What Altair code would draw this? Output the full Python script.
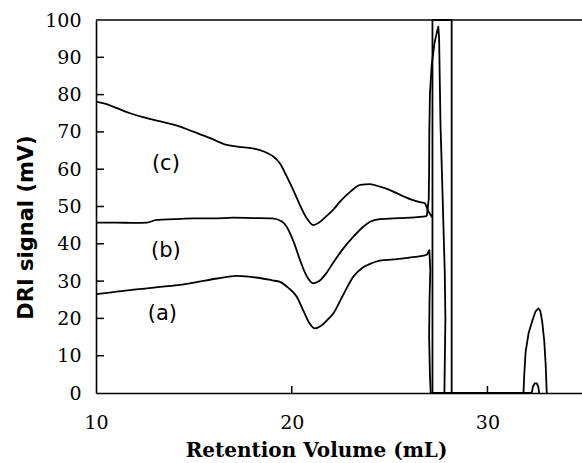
import altair as alt
import pandas as pd

# ---- data ----
c_x = [10.0, 10.5, 11.0, 11.74, 12.5, 13.3, 14.29, 15.0, 15.8, 16.68, 17.3, 18.0, 18.38, 18.8, 19.06,
       19.4, 19.75, 20.08, 20.4, 20.75, 21.1, 21.4, 21.75, 22.1, 22.5, 23.0, 23.5, 24.0, 24.5, 25.02,
       25.6, 26.2, 26.81, 27.0, 27.19, 27.19, 27.19, 28.17, 28.17]
c_y = [78.1, 77.5, 76.5, 75.0, 73.8, 72.8, 71.4, 70.0, 68.4, 66.5, 66.0, 65.6, 65.1, 64.2, 63.4,
       61.5, 58.0, 54.4, 50.6, 47.0, 45.0, 45.7, 47.3, 49.0, 51.5, 54.0, 55.8, 56.0, 55.3, 54.4,
       53.0, 51.7, 50.9, 48.5, 47.0, 0.0, 100.0, 100.0, 0.0]

b_x = [10.0, 11.0, 12.0, 12.6, 13.1, 14.0, 15.0, 16.0, 17.0, 18.0, 19.0, 19.5, 19.74, 20.1, 20.42,
       20.75, 21.1, 21.4, 21.75, 22.1, 22.6, 23.15, 23.6, 24.0, 24.5, 25.5, 26.3, 26.9, 27.0, 27.02,
       27.03, 27.06, 27.15, 27.3, 27.45, 27.49, 27.53, 27.56, 27.6, 27.68, 27.75, 27.82, 27.85, 27.82,
       27.8, 31.84, 31.88, 31.95, 32.1, 32.3, 32.45, 32.6, 32.7, 32.8, 32.9, 32.97, 33.03]
b_y = [45.7, 45.7, 45.6, 45.7, 46.4, 46.6, 46.8, 46.8, 47.0, 46.9, 46.8, 46.0, 44.6, 40.5, 35.7,
       31.5, 29.4, 30.0, 32.0, 34.8, 38.5, 41.9, 44.3, 45.9, 46.6, 46.9, 47.1, 47.4, 52.0, 60.0,
       70.0, 80.0, 88.0, 94.0, 97.5, 98.2, 95.0, 85.0, 72.0, 58.0, 45.0, 32.0, 20.0, 8.0,
       0.0, 0.0, 5.0, 11.0, 16.0, 19.5, 21.8, 22.7, 22.0, 19.0, 14.0, 8.0, 0.0]

a_x = [10.0, 10.8, 11.74, 12.5, 13.4, 14.29, 15.2, 16.2, 17.19, 17.8, 18.5, 19.0, 19.4, 19.8, 20.26,
       20.6, 20.9, 21.19, 21.5, 21.8, 22.13, 22.6, 23.15, 23.6, 24.0, 24.5, 25.2, 26.0, 26.6, 26.9,
       27.03, 27.08, 27.04, 27.02, 27.06, 27.1, 32.26, 32.33, 32.42, 32.52, 32.6, 32.64]
a_y = [26.5, 27.0, 27.6, 28.0, 28.5, 29.0, 29.8, 30.7, 31.4, 31.2, 30.7, 30.2, 29.8, 28.3, 25.8,
       22.0, 18.8, 17.3, 18.0, 19.5, 21.4, 26.0, 31.2, 33.5, 34.6, 35.5, 35.8, 36.3, 36.7, 37.0,
       38.3, 33.0, 25.0, 15.0, 5.0, 0.0, 0.0, 1.8, 2.6, 2.6, 1.6, 0.0]

# last x of the smooth (pre-solvent-peak) part of each trace
smooth_end = {"c": 26.81, "b": 26.9, "a": 26.9}

label_text = ["(c)", "(b)", "(a)"]
label_x = [13.57, 13.57, 13.39]
label_y = [61.4, 38.1, 21.2]

x_ticks = [10, 20, 30]
y_ticks = [0, 10, 20, 30, 40, 50, 60, 70, 80, 90, 100]
y_inner_ticks = [10, 20, 30, 40, 50, 60, 70, 80, 90]
x_inner_ticks = [20, 30]

W, H = 486, 373

smooth_rows, sharp_rows = [], []
for name, xs, ys in (("c", c_x, c_y), ("b", b_x, b_y), ("a", a_x, a_y)):
    j = xs.index(smooth_end[name])
    for i, (xv, yv) in enumerate(zip(xs, ys)):
        if i <= j:
            smooth_rows.append({"series": name, "x": xv, "y": yv, "order": i})
        if i >= j:
            sharp_rows.append({"series": name, "x": xv, "y": yv, "order": i})
df_smooth = pd.DataFrame(smooth_rows)
df_sharp = pd.DataFrame(sharp_rows)

xscale = alt.Scale(domain=[10, 34.83], nice=False, zero=False)
yscale = alt.Scale(domain=[0, 100], nice=False)

x_axis = alt.Axis(values=x_ticks, ticks=False, tickSize=0, grid=False,
                  labelFlush=False, labelOverlap=False,
                  domainColor="black", domainWidth=1.6,
                  labelFont="DejaVu Serif", labelFontSize=19, labelColor="black",
                  labelPadding=20,
                  title="Retention Volume (mL)", titleFont="DejaVu Serif",
                  titleFontSize=20, titleFontWeight="bold", titleColor="black",
                  titleX=220, titleY=63, titleBaseline="alphabetic")
y_axis = alt.Axis(values=y_ticks, ticks=False, tickSize=0, grid=False,
                  labelFlush=False, labelOverlap=False,
                  domainColor="black", domainWidth=1.6,
                  labelFont="DejaVu Serif", labelFontSize=19, labelColor="black",
                  labelPadding=15,
                  title="DRI signal  (mV)", titleFont="DejaVu Sans",
                  titleFontSize=21, titleFontWeight="bold", titleColor="black",
                  titleX=-70, titleY=207, titleBaseline="middle")


def X(field):
    return alt.X(field, scale=xscale, axis=x_axis, title="Retention Volume (mL)")


def Y(field):
    return alt.Y(field, scale=yscale, axis=y_axis, title="DRI signal  (mV)")


smooth = alt.Chart(df_smooth).mark_line(color="black", strokeWidth=1.8,
                                        interpolate="monotone").encode(
    x=X("x:Q"), y=Y("y:Q"), detail="series:N", order="order:Q",
)
sharp = alt.Chart(df_sharp).mark_line(color="black", strokeWidth=1.8,
                                      strokeJoin="round").encode(
    x=X("x:Q"), y=Y("y:Q"), detail="series:N", order="order:Q",
)

ytick_df = pd.DataFrame({"y": y_inner_ticks})
yticks = alt.Chart(ytick_df).mark_rule(color="black", strokeWidth=1.5).encode(
    y=Y("y:Q"), x=alt.value(0), x2=alt.value(8),
)

xtick_df = pd.DataFrame({"x": x_inner_ticks})
xticks = alt.Chart(xtick_df).mark_rule(color="black", strokeWidth=1.5).encode(
    x=X("x:Q"), y=alt.value(H), y2=alt.value(H - 7),
)

top = alt.Chart(pd.DataFrame({"y": [100]})).mark_rule(color="black", strokeWidth=1.6).encode(
    y=Y("y:Q"), x=alt.value(0), x2=alt.value(W),
)

lab_df = pd.DataFrame({"t": label_text, "x": label_x, "y": label_y})
labels = alt.Chart(lab_df).mark_text(font="DejaVu Sans", fontSize=21, color="black",
                                     align="center", baseline="middle").encode(
    x=X("x:Q"), y=Y("y:Q"), text="t:N",
)

chart = alt.layer(smooth, sharp, yticks, xticks, top, labels).properties(
    width=W, height=H,
    autosize=alt.AutoSizeParams(type="none"),
    padding={"left": 96, "top": 20, "right": 0, "bottom": 70},
    background="white",
).configure_view(strokeWidth=0)

chart.save("out.html", embed_options={"renderer": "svg", "actions": False})
